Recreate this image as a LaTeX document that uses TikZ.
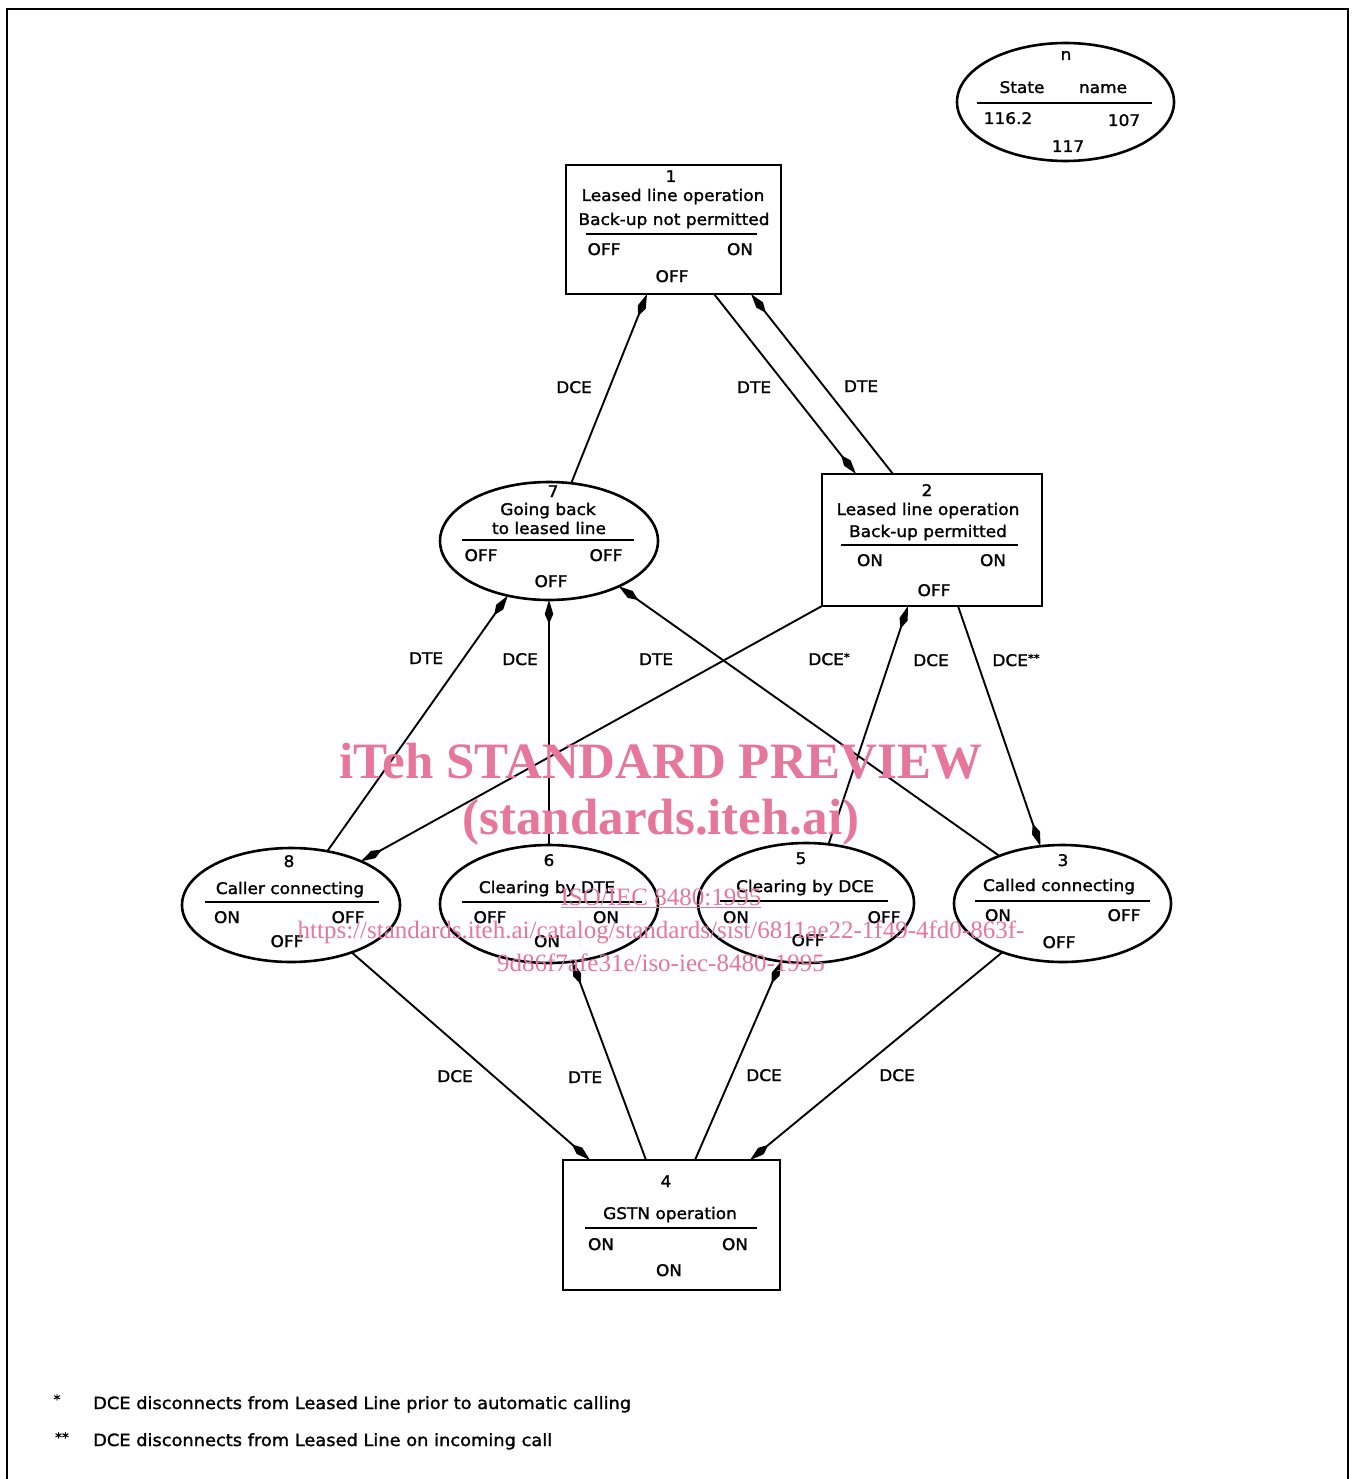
\documentclass[tikz,border=0pt]{standalone}
\usepackage{fontspec}
\setmainfont{DejaVu Sans}[FakeStretch=1.06,FakeBold=1.5]
\newfontfamily\wmfont{Liberation Serif}
\usetikzlibrary{arrows.meta,shapes.geometric}
\definecolor{wmpink}{RGB}{230,118,154}
\begin{document}
\begin{tikzpicture}[x=1pt,y=-1pt,
  txt/.style={inner sep=0pt, text height=12pt, text depth=0pt, font=\fontsize{16}{19}\selectfont},
  ell/.style={draw, ellipse, line width=2.6pt, inner sep=0pt, outer sep=0pt},
  stbox/.style={draw, rectangle, line width=2.8pt, inner sep=0pt, outer sep=0pt},
  rulel/.style={line width=2.2pt},
  conn/.style={line width=1.9pt, -{Kite[length=24pt,width=8.5pt,inset=10pt]}},
  wm/.style={inner sep=0pt, text=wmpink},
]
\useasboundingbox (0,0) rectangle (1356,1479);
% frame
\draw[line width=2.8pt] (7,1500) -- (7,9) -- (1348,9) -- (1348,1500);

% legend ellipse
\node[ell, minimum width=217pt, minimum height=118pt] (lg) at (1065.5,102) {};
\node[txt] (lgn) at (1066,54) {n};
\node[txt] (lgs) at (1022,87) {State};
\node[txt] (lgm) at (1103,87) {name};
\draw[rulel] (977,103) -- (1152,103);
\node[txt] (lga) at (1008,118) {116.2};
\node[txt] (lgb) at (1124,120) {107};
\node[txt] (lgc) at (1068,146) {117};

% state 1
\node[stbox, minimum width=215pt, minimum height=129pt] (n1) at (673.5,229.5) {};
\node[txt] (t1a) at (671,176) {1};
\node[txt] (t1b) at (673,195) {Leased line operation};
\node[txt] (t1c) at (674,219) {Back-up not permitted};
\draw[rulel] (586,234) -- (757,234);
\node[txt] (t1d) at (604,249) {OFF};
\node[txt] (t1e) at (740,249) {ON};
\node[txt] (t1f) at (672,276) {OFF};

% state 2
\node[stbox, minimum width=220pt, minimum height=132pt] (n2) at (932,540) {};
\node[txt] (t2a) at (927,490) {2};
\node[txt] (t2b) at (928,509) {Leased line operation};
\node[txt] (t2c) at (928,531) {Back-up permitted};
\draw[rulel] (841,545) -- (1018,545);
\node[txt] (t2d) at (870,560) {ON};
\node[txt] (t2e) at (993,560) {ON};
\node[txt] (t2f) at (934,590) {OFF};

% state 7
\node[ell, minimum width=218pt, minimum height=118pt] (n7) at (549,541) {};
\node[txt] (t7a) at (553,491) {7};
\node[txt] (t7b) at (548,509) {Going back};
\node[txt] (t7c) at (549,528) {to leased line};
\draw[rulel] (462,540) -- (634,540);
\node[txt] (t7d) at (481,555) {OFF};
\node[txt] (t7e) at (606,555) {OFF};
\node[txt] (t7f) at (551,581) {OFF};

% state 8
\node[ell, minimum width=218pt, minimum height=114pt] (n8) at (291,905) {};
\node[txt] (t8a) at (289,861) {8};
\node[txt] (t8b) at (290,888) {Caller connecting};
\draw[rulel] (205,902) -- (379,902);
\node[txt] (t8d) at (227,917) {ON};
\node[txt] (t8e) at (348,917) {OFF};
\node[txt] (t8f) at (287,941) {OFF};

% state 6
\node[ell, minimum width=218pt, minimum height=118pt] (n6) at (549,904) {};
\node[txt] (t6a) at (549,860) {6};
\node[txt] (t6b) at (547,887) {Clearing by DTE};
\draw[rulel] (462,902) -- (642,902);
\node[txt] (t6d) at (490,917) {OFF};
\node[txt] (t6e) at (606,917) {ON};
\node[txt] (t6f) at (547,941) {ON};

% state 5
\node[ell, minimum width=216pt, minimum height=120pt] (n5) at (806,903) {};
\node[txt] (t5a) at (801,858) {5};
\node[txt] (t5b) at (805,886) {Clearing by DCE};
\draw[rulel] (720,901) -- (888,901);
\node[txt] (t5d) at (736,917) {ON};
\node[txt] (t5e) at (884,917) {OFF};
\node[txt] (t5f) at (808,940) {OFF};

% state 3
\node[ell, minimum width=217pt, minimum height=117pt] (n3) at (1062.5,903.5) {};
\node[txt] (t3a) at (1063,860) {3};
\node[txt] (t3b) at (1059,885) {Called connecting};
\draw[rulel] (975,901) -- (1150,901);
\node[txt] (t3d) at (998,915) {ON};
\node[txt] (t3e) at (1124,915) {OFF};
\node[txt] (t3f) at (1059,942) {OFF};

% state 4
\node[stbox, minimum width=217pt, minimum height=130pt] (n4) at (671.5,1225) {};
\node[txt] (t4a) at (666,1181) {4};
\node[txt] (t4b) at (670,1213) {GSTN operation};
\draw[rulel] (585,1228) -- (757,1228);
\node[txt] (t4d) at (601,1244) {ON};
\node[txt] (t4e) at (735,1244) {ON};
\node[txt] (t4f) at (669,1270) {ON};

% connectors
\draw[conn] (n7.69) -- ([xshift=-26.5pt]n1.south);
\draw[conn] ([xshift=40.5pt]n1.south) -- ([xshift=-76pt]n2.north);
\draw[conn] ([xshift=-39pt]n2.north) -- ([xshift=77.5pt]n1.south);
\draw[conn] (n8.56) -- (n7.-127);
\draw[conn] (n6.north) -- (n7.south);
\draw[conn] (n3.143) -- (n7.-33);
\draw[conn] (n2.south west) -- (n8.32);
\draw[conn] (n5.69) -- ([xshift=-24pt]n2.south);
\draw[conn] ([xshift=26pt]n2.south) -- (n3.111);
\draw[conn] (n8.-38) -- ([xshift=-81.5pt]n4.north);
\draw[conn] ([xshift=-25.5pt]n4.north) -- (n6.-68);
\draw[conn] ([xshift=23.5pt]n4.north) -- (n5.-113);
\draw[conn] (n3.-141) -- ([xshift=78.5pt]n4.north);

% connector labels
\node[txt] (l1) at (574,387) {DCE};
\node[txt] (l2) at (754,387) {DTE};
\node[txt] (l3) at (861,386) {DTE};
\node[txt] (l4) at (426,658) {DTE};
\node[txt] (l5) at (520,659) {DCE};
\node[txt] (l6) at (656,659) {DTE};
\node[txt] (l7) at (829,659) {DCE\raisebox{4pt}{\fontsize{11}{11}\selectfont *}};
\node[txt] (l8) at (931,660) {DCE};
\node[txt] (l9) at (1016,660) {DCE\raisebox{4pt}{\fontsize{11}{11}\selectfont **}};
\node[txt] (l10) at (455,1076) {DCE};
\node[txt] (l11) at (585,1077) {DTE};
\node[txt] (l12) at (764,1075) {DCE};
\node[txt] (l13) at (897,1075) {DCE};

% footnotes
\node[txt, font=\fontsize{13}{13}\selectfont] (f1m) at (57,1398) {*};
\node[txt, anchor=west, font=\fontsize{16.8}{19}\selectfont] (f1) at (93,1403) {DCE disconnects from Leased Line prior to automatic calling};
\node[txt, font=\fontsize{13}{13}\selectfont] (f2m) at (62,1436) {**};
\node[txt, anchor=west, font=\fontsize{16.8}{19}\selectfont] (f2) at (93,1440) {DCE disconnects from Leased Line on incoming call};

% watermark
\node[wm, font=\wmfont\bfseries\fontsize{51}{51}\selectfont] (w1) at (661,761) {iTeh STANDARD PREVIEW};
\node[wm, font=\wmfont\bfseries\fontsize{51}{51}\selectfont] (w2) at (661,822) {(standards.iteh.ai)};
\node[wm, font=\wmfont\fontsize{25}{25}\selectfont] (w3) at (661,898) {\underline{ISO/IEC 8480:1995}};
\node[wm, font=\wmfont\fontsize{25}{25}\selectfont] (w4) at (661,932) {https://standards.iteh.ai/catalog/standards/sist/6811ae22-1f49-4fd0-863f-};
\node[wm, font=\wmfont\fontsize{25}{25}\selectfont] (w5) at (661,963) {9d86f7afe31e/iso-iec-8480-1995};
\end{tikzpicture}
\end{document}
